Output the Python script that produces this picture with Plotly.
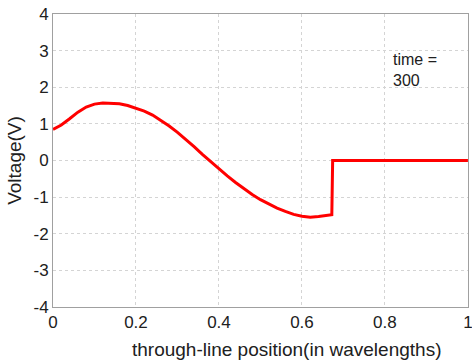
import plotly.graph_objects as go

# Voltage snapshot along the line (position in wavelengths, volts)
position = [0.0, 0.02, 0.04, 0.06, 0.08, 0.10, 0.12, 0.14, 0.16, 0.18,
            0.20, 0.22, 0.24, 0.26, 0.28, 0.30, 0.32, 0.34, 0.36, 0.38,
            0.40, 0.42, 0.44, 0.46, 0.48, 0.50, 0.52, 0.54, 0.56, 0.58,
            0.60, 0.62, 0.64, 0.66, 0.672, 0.674, 0.70, 0.80, 0.90, 1.0]
voltage = [0.85, 0.97, 1.14, 1.32, 1.46, 1.54, 1.57, 1.57, 1.55, 1.50,
           1.43, 1.35, 1.24, 1.10, 0.94, 0.77, 0.58, 0.38, 0.17, -0.03,
           -0.22, -0.42, -0.60, -0.77, -0.93, -1.07, -1.19, -1.30, -1.39, -1.47,
           -1.52, -1.55, -1.53, -1.50, -1.48, 0.0, 0.0, 0.0, 0.0, 0.0]

x_ticks = [0, 0.2, 0.4, 0.6, 0.8, 1]
x_tick_labels = ["0", "0.2", "0.4", "0.6", "0.8", "1"]
y_ticks = [-4, -3, -2, -1, 0, 1, 2, 3, 4]
y_tick_labels = ["-4", "-3", "-2", "-1", "0", "1", "2", "3", "4"]

font_family = "Liberation Sans, Arial, sans-serif"
text_color = "#202020"

fig = go.Figure()
fig.add_trace(go.Scatter(
    x=position, y=voltage, mode="lines",
    line=dict(color="#ff0000", width=3),
    showlegend=False,
))

axis_common = dict(
    showline=True, linecolor="#a0a0a0", linewidth=1, mirror=True,
    showgrid=True, gridcolor="#d4d4d4", griddash="dot", gridwidth=1,
    zeroline=False, ticks="", tickfont=dict(size=17, color=text_color),
    ticklabeloverflow="allow", automargin=False,
)

fig.update_xaxes(
    range=[0, 1.0002], tickvals=x_ticks, ticktext=x_tick_labels,
    **axis_common,
)
fig.update_yaxes(
    range=[-4, 4], tickvals=y_ticks, ticktext=y_tick_labels,
    title=dict(text="Voltage(V)", font=dict(size=19, color=text_color), standoff=6),
    **axis_common,
)

# x-axis caption, set slightly right of the plot centre
fig.add_annotation(
    x=0.563, y=-0.102, xref="paper", yref="paper",
    text="through-line position(in wavelengths)",
    showarrow=False, xanchor="center", yanchor="top",
    font=dict(size=19, color=text_color, family=font_family),
)

fig.add_annotation(
    x=0.815, y=3.05, xref="x", yref="y", text="time =<br>300",
    showarrow=False, xanchor="left", yanchor="top", align="left",
    font=dict(size=16, color=text_color, family=font_family),
)

fig.update_layout(
    width=472, height=360,
    margin=dict(l=53, r=4, t=14, b=53),
    paper_bgcolor="white", plot_bgcolor="white",
    font=dict(family=font_family),
)

fig.write_html("out.html")
